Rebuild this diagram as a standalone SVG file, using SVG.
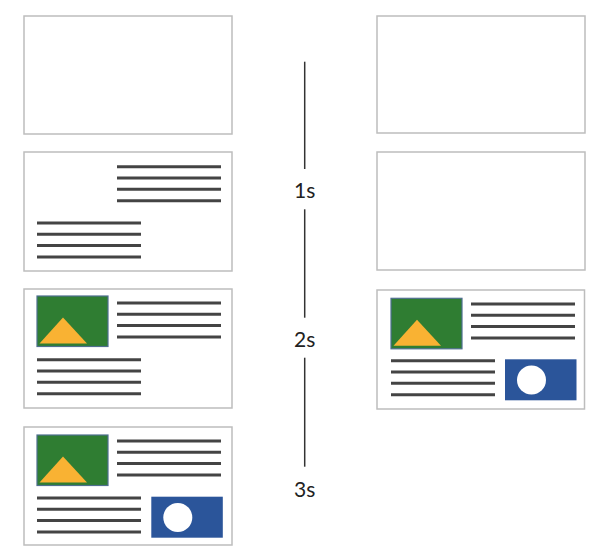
<svg xmlns="http://www.w3.org/2000/svg" width="595" height="548" viewBox="0 0 595 548">
<style>
.frame{fill:#fff;stroke:#bdbdbd;stroke-width:1.5}
.txt{stroke:#444;stroke-width:3}
.img{fill:#2f7d32;stroke:#4f6f8f;stroke-width:1.2}
.tri{fill:#f9b233}
.blue{fill:#2b559a}
.dot{fill:#fff}
.tl{stroke:#333;stroke-width:1.5}
.lbl{font-family:Lato,"Liberation Sans",sans-serif;font-size:21px;fill:#222;text-anchor:middle}
</style>
<defs>
<g id="lines4"><line x1="0" y1="0" x2="104" y2="0"/><line x1="0" y1="11.3" x2="104" y2="11.3"/><line x1="0" y1="22.6" x2="104" y2="22.6"/><line x1="0" y1="34" x2="104" y2="34"/></g>
<g id="pic"><rect class="img" x="0" y="0" width="71" height="50.5"/><polygon class="tri" points="26,21.5 2.5,47.5 50,47.5"/></g>
<g id="photo"><rect class="blue" x="0" y="0" width="71.5" height="41"/><circle class="dot" cx="26.5" cy="20.8" r="14.5"/></g>
</defs>
<rect width="595" height="548" fill="#fff"/>
<g id="L1"><rect class="frame" x="24" y="16" width="208" height="118"/></g>
<g id="L2"><rect class="frame" x="24" y="152" width="208" height="119"/>
<use href="#lines4" class="txt" x="117" y="166.7"/><use href="#lines4" class="txt" x="37" y="223"/></g>
<g id="L3"><rect class="frame" x="24" y="289" width="208" height="119"/>
<use href="#pic" x="37" y="296"/>
<use href="#lines4" class="txt" x="117" y="303"/><use href="#lines4" class="txt" x="37" y="359.7"/></g>
<g id="L4"><rect class="frame" x="24" y="427" width="208" height="118"/>
<use href="#pic" x="37" y="435"/>
<use href="#lines4" class="txt" x="117" y="441"/><use href="#lines4" class="txt" x="37" y="498"/>
<use href="#photo" x="151.3" y="496.7"/></g>
<g id="R1"><rect class="frame" x="377" y="16" width="208" height="117"/></g>
<g id="R2"><rect class="frame" x="377" y="152" width="208" height="118"/></g>
<g id="R3"><rect class="frame" x="377" y="290" width="207.5" height="119"/>
<use href="#pic" x="391" y="298.3"/>
<use href="#lines4" class="txt" x="471" y="304"/><use href="#lines4" class="txt" x="391" y="360.7"/>
<use href="#photo" x="505" y="359.3"/></g>
<g id="timeline">
<line class="tl" x1="304.7" y1="61.7" x2="304.7" y2="169"/>
<line class="tl" x1="304.7" y1="209.3" x2="304.7" y2="317.7"/>
<line class="tl" x1="304.7" y1="357.7" x2="304.7" y2="466.7"/>
</g>
<g id="labels">
<text class="lbl" x="304.7" y="198.3">1s</text>
<text class="lbl" x="304.7" y="346.7">2s</text>
<text class="lbl" x="304.7" y="496.7">3s</text>
</g>
</svg>
